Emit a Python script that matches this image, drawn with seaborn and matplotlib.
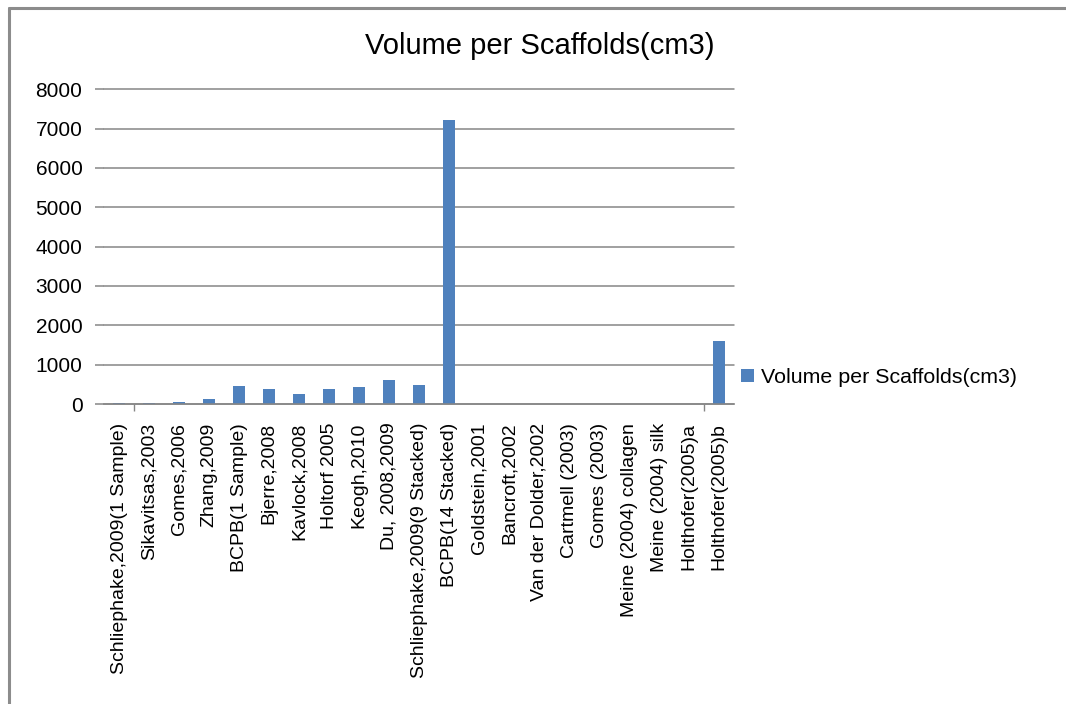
import matplotlib
matplotlib.use("Agg")
import matplotlib.pyplot as plt
from matplotlib.lines import Line2D
import seaborn as sns

# Scaffold studies and the volume of one scaffold in each (cm3)
studies = [
    "Schliephake,2009(1 Sample)",
    "Sikavitsas,2003",
    "Gomes,2006",
    "Zhang,2009",
    "BCPB(1 Sample)",
    "Bjerre,2008",
    "Kavlock,2008",
    "Holtorf 2005",
    "Keogh,2010",
    "Du, 2008,2009",
    "Schliephake,2009(9 Stacked)",
    "BCPB(14 Stacked)",
    "Goldstein,2001",
    "Bancroft,2002",
    "Van der Dolder,2002",
    "Cartmell (2003)",
    "Gomes (2003)",
    "Meine (2004) collagen",
    "Meine (2004) silk",
    "Holthofer(2005)a",
    "Holthofer(2005)b",
]
volumes = [35, 35, 60, 115, 470, 370, 265, 370, 420, 600, 495, 7220,
           0, 0, 0, 0, 0, 0, 0, 0, 1600]
y_ticks = [0, 1000, 2000, 3000, 4000, 5000, 6000, 7000, 8000]

series_name = "Volume per Scaffolds(cm3)"
bar_color = "#4F81BD"
grid_color = "#868686"

sns.set_style("white")
plt.rcParams["font.family"] = ["Liberation Sans", "DejaVu Sans"]
plt.rcParams["text.color"] = "black"
plt.rcParams["xtick.color"] = "black"
plt.rcParams["ytick.color"] = "black"

W, H = 1066, 704
fig = plt.figure(figsize=(W / 100, H / 100), dpi=100)
ax = fig.add_axes([104 / W, 300 / H, 630 / W, 314.7 / H])

sns.barplot(x=studies, y=volumes, color=bar_color, width=0.38,
            saturation=1, linewidth=0, label=series_name, ax=ax)

ax.set_xlim(-0.5, len(studies) - 0.5)
ax.set_ylim(0, 8000)
ax.set_yticks(y_ticks)
ax.set_yticklabels([str(v) for v in y_ticks], fontsize=15)
ax.yaxis.grid(True, color=grid_color, linewidth=1.1)
for gl in ax.get_ygridlines():
    gl.set_clip_on(False)
ax.set_axisbelow(True)
ax.tick_params(axis="y", length=6.5, width=1.1, color=grid_color, pad=9,
               labelcolor="black", left=True)

ax.set_xticks(range(len(studies)))
ax.set_xticklabels(studies, rotation=90, ha="center", va="top", fontsize=14)
ax.tick_params(axis="x", length=0, pad=13.5, labelcolor="black")
ax.set_xticks([0.5, len(studies) - 1.5], minor=True)
ax.tick_params(axis="x", which="minor", length=5, width=1, color=grid_color,
               bottom=True)

for side in ["left", "right", "top"]:
    ax.spines[side].set_visible(False)
ax.spines["bottom"].set_color(grid_color)
ax.spines["bottom"].set_linewidth(1.1)
ax.set_xlabel("")
ax.set_ylabel("")

fig.text(540 / W, 1 - 46 / H, series_name, ha="center", va="center",
         fontsize=21, color="black")

# legend sits just right of the plot area, level with the 1000 gridline
leg = ax.legend(loc="center left",
                bbox_to_anchor=((741 - 104) / 630, (403.3 - 377) / 314.7),
                frameon=False, fontsize=15.4, handlelength=0.6,
                handleheight=0.6, handletextpad=0.35, borderaxespad=0.0,
                borderpad=0.0)
for t in leg.get_texts():
    t.set_color("black")

# outer chart frame (left and top edges)
fig.add_artist(Line2D([9 / W, 9 / W], [0, 1 - 8 / H], transform=fig.transFigure,
                      color="#8c8c8c", linewidth=2.2))
fig.add_artist(Line2D([9 / W, 1], [1 - 8 / H, 1 - 8 / H], transform=fig.transFigure,
                      color="#8c8c8c", linewidth=2.2))

fig.savefig("out.png", dpi=100, facecolor="white")
